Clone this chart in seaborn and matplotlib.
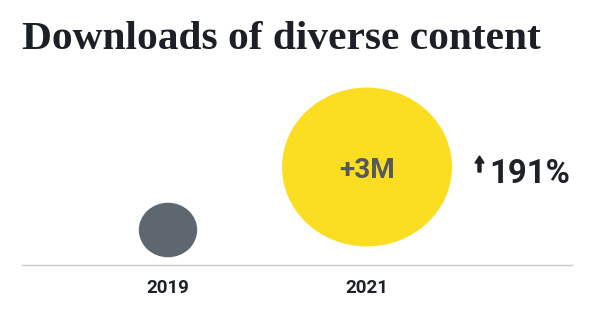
import matplotlib
matplotlib.use("Agg")
import matplotlib.pyplot as plt
import seaborn as sns
import pandas as pd
from matplotlib.path import Path
from matplotlib.transforms import Affine2D
from matplotlib.markers import MarkerStyle
from matplotlib.patches import FancyArrow

# ---- data ----
years = ["2019", "2021"]
downloads_m = [1.57, 4.57]          # millions of downloads
title = "Downloads of diverse content"

# ---- styling / layout ----
colors = {"2019": "#5e6670", "2021": "#fbdd22"}
px_per_million = 37.2               # circle width in px per million downloads
center_height = [35, 98]            # circle centre height above baseline (px)
DPI = 100
SANS = ["Roboto", "DejaVu Sans"]
DARK = "#1e2227"

sns.set_theme(style="white")
plt.rcParams["font.family"] = SANS

fig = plt.figure(figsize=(5.95, 3.31), dpi=DPI)
W, H = 595, 331
ax_left, ax_right, base_y, ax_top = 22, 572, 265, 70
ax = fig.add_axes([ax_left / W, (H - base_y) / H, (ax_right - ax_left) / W, (base_y - ax_top) / H])

df = pd.DataFrame({"year": years, "value": downloads_m, "h": center_height})
sizes = {v: (v * px_per_million * 72 / DPI) ** 2 for v in downloads_m}
ellipse = MarkerStyle(Path.unit_circle().transformed(Affine2D().scale(1.07, 1.0)))

sns.scatterplot(data=df, x="year", y="h", hue="year", palette=colors, size="value",
                sizes=sizes, marker=ellipse, linewidth=0, legend=False, ax=ax, zorder=3)

unit = 199.0
ax.set_xlim((ax_left - 168) / unit, (ax_right - 168) / unit)
ax.set_ylim(0, base_y - ax_top)

for s in ["top", "left", "right"]:
    ax.spines[s].set_visible(False)
ax.spines["bottom"].set_color("#c9c9c9")
ax.spines["bottom"].set_linewidth(1.0)
ax.set_yticks([])
ax.set_xlabel("")
ax.set_ylabel("")
ax.tick_params(axis="x", length=0, pad=10, labelsize=13.5, labelcolor=DARK)
for lbl in ax.get_xticklabels():
    lbl.set_fontweight("bold")

renderer = fig.canvas.get_renderer()


def fit_width(txt, target_px):
    w = txt.get_window_extent(renderer).width
    txt.set_fontsize(txt.get_fontsize() * target_px / w)


diff = downloads_m[1] - downloads_m[0]
pct = (downloads_m[1] / downloads_m[0] - 1) * 100
t3 = ax.text(1, center_height[1] - 4, f"+{diff:.0f}M", ha="center", va="center",
             fontsize=17, fontweight="bold", color="#55595e", zorder=4)
fit_width(t3, 56)

# up arrow (drawn in figure pixel coordinates)
fig.add_artist(FancyArrow(479.5, H - 172, 0, 16, width=3.0, head_width=9, head_length=7,
                          length_includes_head=True, color=DARK, transform=None))
tp = fig.text(489 / W, 1 - 174 / H, f"{pct:.0f}%", fontsize=21, fontweight="bold",
              color=DARK, ha="left", va="center")
fit_width(tp, 81)

tt = fig.text(22 / W, 1 - 49 / H, title, fontsize=28, fontweight="bold", color="#1c2026",
              ha="left", va="baseline", family=["Liberation Serif", "DejaVu Serif"])
fit_width(tt, 520)

fig.savefig("out.png", dpi=DPI, facecolor="white")
